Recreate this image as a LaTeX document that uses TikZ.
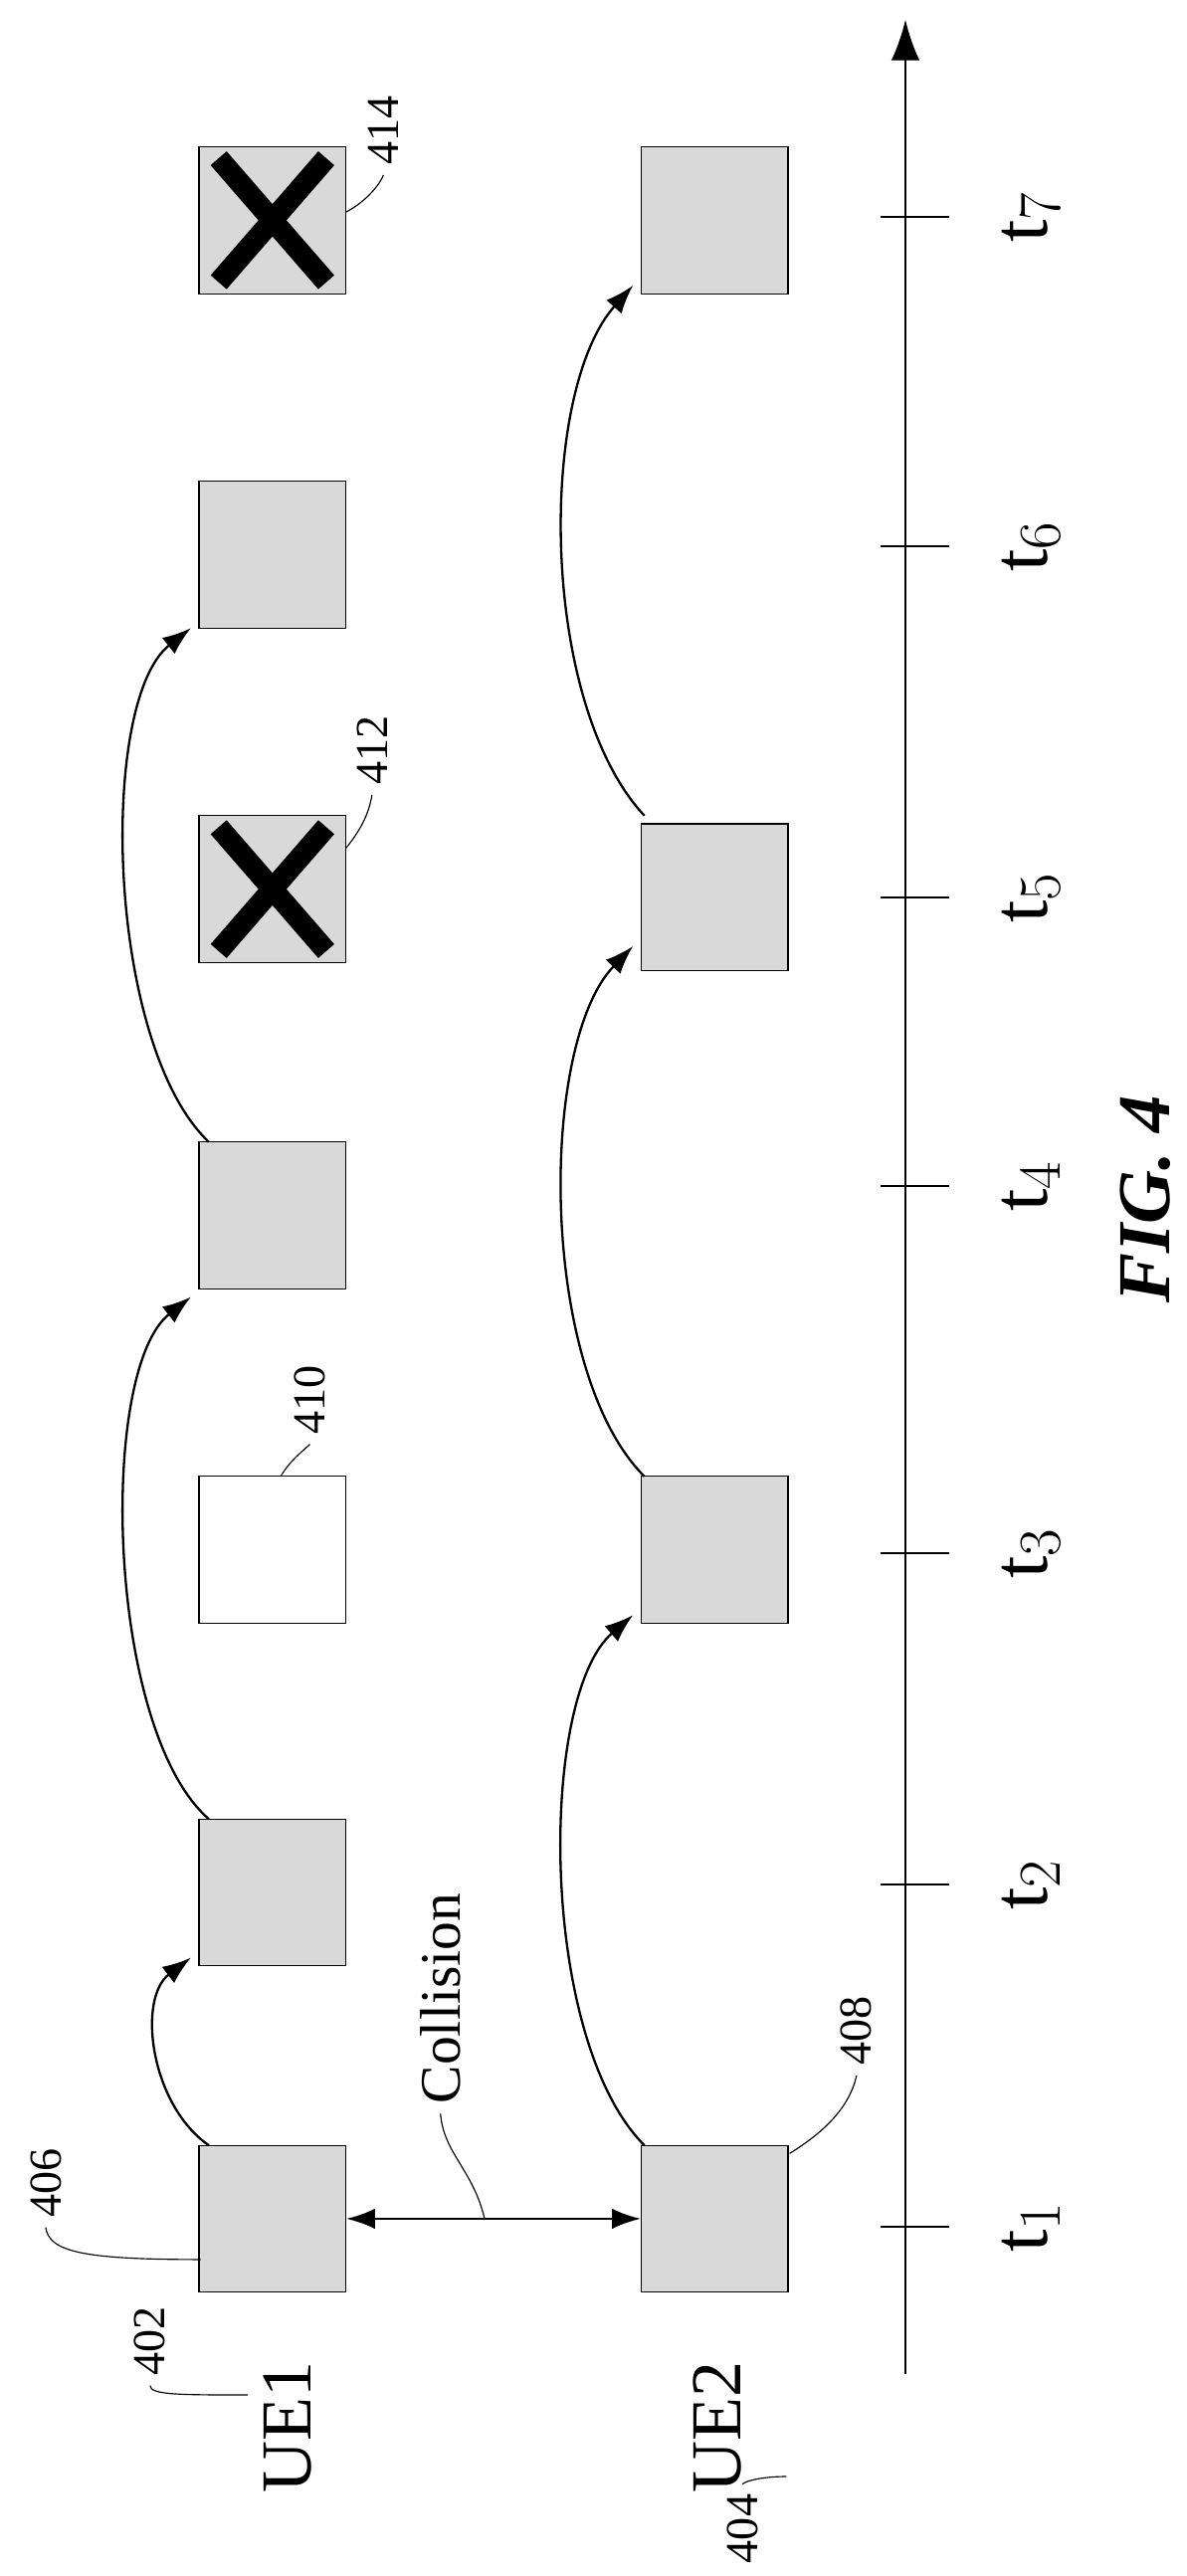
\documentclass[tikz,border=0pt]{standalone}
\usepackage{fontspec}
\setmainfont{Liberation Serif}
\usetikzlibrary{arrows.meta,calc}
\tikzset{
  slot/.style={draw,fill=gray!30,minimum size=1.8cm,inner sep=0pt},
  hop/.style={-{Latex[length=3.5mm,width=2.5mm]},thick},
  lead/.style={thin},
  refnum/.style={rotate=90,font=\fontsize{16}{16}\selectfont},
  ticklab/.style={rotate=90,font=\fontsize{28}{28}\selectfont},
  uelab/.style={rotate=90,font=\fontsize{25}{25}\selectfont},
}
\begin{document}
\begin{tikzpicture}[x=0.02cm,y=-0.02cm]
  \useasboundingbox (0,0) rectangle (727,1579);
  % time axis
  \draw[thick,-{Latex[length=5mm,width=3.5mm]}] (555,1455) coordinate (axb) -- (555,12) coordinate (axt);
  \foreach \y/\i in {1365/1,1155/2,952/3,727/4,550/5,335/6,133/7}{
    \draw[thick] (540,\y) -- (582,\y);
    \node[ticklab] (t\i) at (632,\y) {t$_{\i}$};
  }
  % UE1 slots
  \node[slot] (a1) at (167,1360) {};
  \node[slot] (a2) at (167,1160) {};
  \node[slot,fill=white] (a3) at (167,950) {};
  \node[slot] (a4) at (167,745) {};
  \node[slot] (a5) at (167,545) {};
  \node[slot] (a6) at (167,340) {};
  \node[slot] (a7) at (167,135) {};
  % UE2 slots
  \node[slot] (b1) at (438,1360) {};
  \node[slot] (b3) at (438,950) {};
  \node[slot] (b5) at (438,550) {};
  \node[slot] (b7) at (438,135) {};
  % crossed slots
  \foreach \n in {a5,a7}{
    \draw[line width=2.6mm] ($(\n.center)+(-33,-38)$) -- ($(\n.center)+(33,38)$);
    \draw[line width=2.6mm] ($(\n.center)+(33,-38)$) -- ($(\n.center)+(-33,38)$);
  }
  % hops
  \draw[hop] (128,1315) .. controls (92,1290) and (84,1225) .. (117,1200);
  \draw[hop] (128,1115) .. controls (65,1060) and (60,840) .. (117,795);
  \draw[hop] (128,700) .. controls (65,640) and (60,430) .. (117,385);
  \draw[hop] (395,1315) .. controls (330,1250) and (330,1040) .. (388,990);
  \draw[hop] (395,905) .. controls (330,840) and (330,640) .. (388,580);
  \draw[hop] (395,500) .. controls (330,430) and (330,240) .. (388,175);
  % collision
  \draw[{Latex[length=3.5mm,width=2.5mm]}-{Latex[length=3.5mm,width=2.5mm]},thick] (a1.east) -- (b1.west);
  \node[rotate=90,font=\fontsize{20}{20}\selectfont] (col) at (270,1225) {Collision};
  \draw[lead] (297,1360) .. controls (290,1330) and (272,1320) .. (col.west);
  % UE labels
  \node[uelab] (ue1) at (176,1488) {UE1};
  \node[uelab] (ue2) at (440,1488) {UE2};
  % reference numerals
  \node[refnum] (n402) at (92,1435) {402};
  \coordinate (e402) at (152,1468);
  \draw[lead] (n402.west) .. controls (92,1468) and (110,1468) .. (e402);
  \node[refnum] (n404) at (455,1550) {404};
  \coordinate (e404) at (482,1518);
  \draw[lead] (n404.east) .. controls (458,1520) and (470,1518) .. (e404);
  \node[refnum] (n406) at (28,1338) {406};
  \draw[lead] (n406.west) .. controls (30,1380) and (50,1385) .. (123,1385);
  \node[refnum] (n408) at (525,1245) {408};
  \draw[lead] (n408.west) .. controls (520,1295) and (500,1310) .. (484,1320);
  \node[refnum] (n410) at (190,858) {410};
  \draw[lead] (n410.west) .. controls (185,890) and (178,895) .. (172,905);
  \node[refnum] (n412) at (228,460) {412};
  \draw[lead] (n412.west) .. controls (226,500) and (220,510) .. (212,520);
  \node[refnum] (n414) at (235,80) {414};
  \draw[lead] (n414.west) .. controls (232,115) and (222,125) .. (212,130);
  % caption
  \node[rotate=90,font=\fontsize{26}{26}\selectfont\bfseries\itshape] (fig) at (702,735) {FIG. 4};
\end{tikzpicture}
\end{document}
